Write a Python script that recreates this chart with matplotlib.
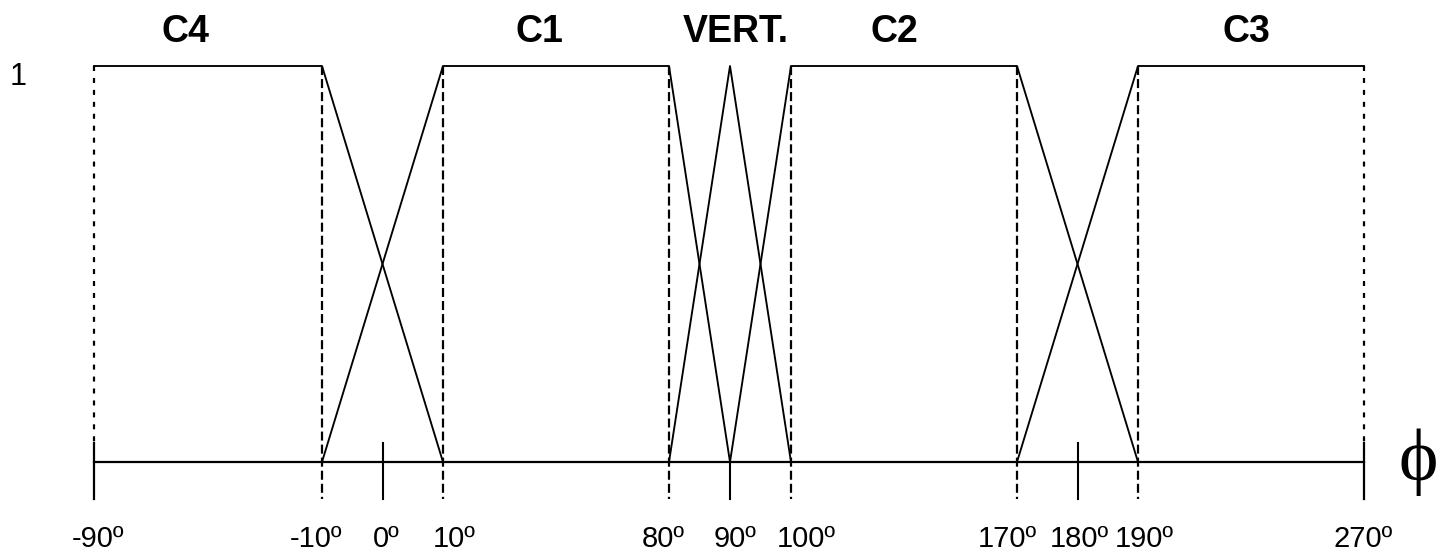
import numpy as np
import matplotlib
matplotlib.use("Agg")
import matplotlib.pyplot as plt
from matplotlib.transforms import ScaledTranslation

plt.rcParams['font.family'] = ['Liberation Sans', 'DejaVu Sans']
plt.rcParams['lines.scale_dashes'] = False

# membership functions (angle in degrees, membership 0..1)
c4_x = [-90, -10, 10]
c4_y = [1, 1, 0]
c1_x = [-10, 10, 80, 90]
c1_y = [0, 1, 1, 0]
vert_x = [80, 90, 100]
vert_y = [0, 1, 0]
c2_x = [90, 100, 170, 190]
c2_y = [0, 1, 1, 0]
c3_x = [170, 190, 270]
c3_y = [0, 1, 1]

set_names = ['C4', 'C1', 'VERT.', 'C2', 'C3']
name_pos = [-58, 40, 91, 132, 228.5]

tick_deg = [-90, -10, 0, 10, 80, 90, 100, 170, 180, 190, 270]
tick_labels = [f"{d}º" for d in tick_deg]
# small horizontal nudges of the labels (pixels)
label_shift = [4, -6, 4, 11, -6, 5, 15, -10, 2, 6, -1]
dashed_deg = [-10, 10, 80, 100, 170, 190]
edge_deg = [-90, 270]
short_deg = [0, 180]

# piecewise axis: transition zones are stretched
knot_deg = np.array([-90, -10, 10, 80, 100, 170, 190, 270], dtype=float)
knot_u = np.array([0, 228, 349, 575, 697, 923, 1044, 1270], dtype=float)


def fwd(x):
    return np.interp(x, knot_deg, knot_u)


def inv(u):
    return np.interp(u, knot_u, knot_deg)


W, H = 1441, 554
fig = plt.figure(figsize=(W / 100, H / 100), dpi=100)
ax = fig.add_axes([94 / W, (H - 462) / H, 1270 / W, 396 / H])
ax.set_xscale('function', functions=(fwd, inv))
ax.set_xlim(-90, 270)
ax.set_ylim(0, 1)
ax.axis('off')

lw = 1.35
for xs, ys in [(c4_x, c4_y), (c1_x, c1_y), (vert_x, vert_y),
               (c2_x, c2_y), (c3_x, c3_y)]:
    ax.plot(xs, ys, color='black', lw=lw, clip_on=False)

# horizontal axis
ax.plot([tick_deg[0], tick_deg[-1]], [0, 0], color='black', lw=1.6, clip_on=False)

y_tick_top = 0.048
y_tick_bot = -0.094

for d in dashed_deg:
    ax.plot([d, d], [1, y_tick_bot], color='black', lw=1.6,
            linestyle=(0, (6.5, 2.9)), clip_on=False)
for d in edge_deg:
    ax.plot([d, d], [1, y_tick_top], color='black', lw=1.6,
            linestyle=(0, (3.6, 5.0)), clip_on=False)
    ax.plot([d, d], [y_tick_top, y_tick_bot], color='black', lw=1.6, clip_on=False)
for d in short_deg:
    ax.plot([d, d], [y_tick_top, y_tick_bot], color='black', lw=1.5, clip_on=False)
ax.plot([90, 90], [0, y_tick_bot], color='black', lw=1.5, clip_on=False)

for d, lab, dx in zip(tick_deg, tick_labels, label_shift):
    tr = ax.transData + ScaledTranslation(dx / 100, 0, fig.dpi_scale_trans)
    ax.text(d, -0.2146, lab, ha='center', va='baseline', fontsize=21,
            transform=tr)

for name, x in zip(set_names, name_pos):
    ax.text(x, 1.0606, name, ha='center', va='baseline', fontsize=27,
            fontweight='bold')

ax.text(-0.06, 0.952, '1', transform=ax.transAxes, ha='center',
        va='baseline', fontsize=22)
ax.text(1.0425, 0.0, 'ϕ', transform=ax.transAxes, ha='center', va='center',
        fontsize=54, family=['Liberation Serif', 'DejaVu Serif'])

fig.savefig('out.png', dpi=100)
